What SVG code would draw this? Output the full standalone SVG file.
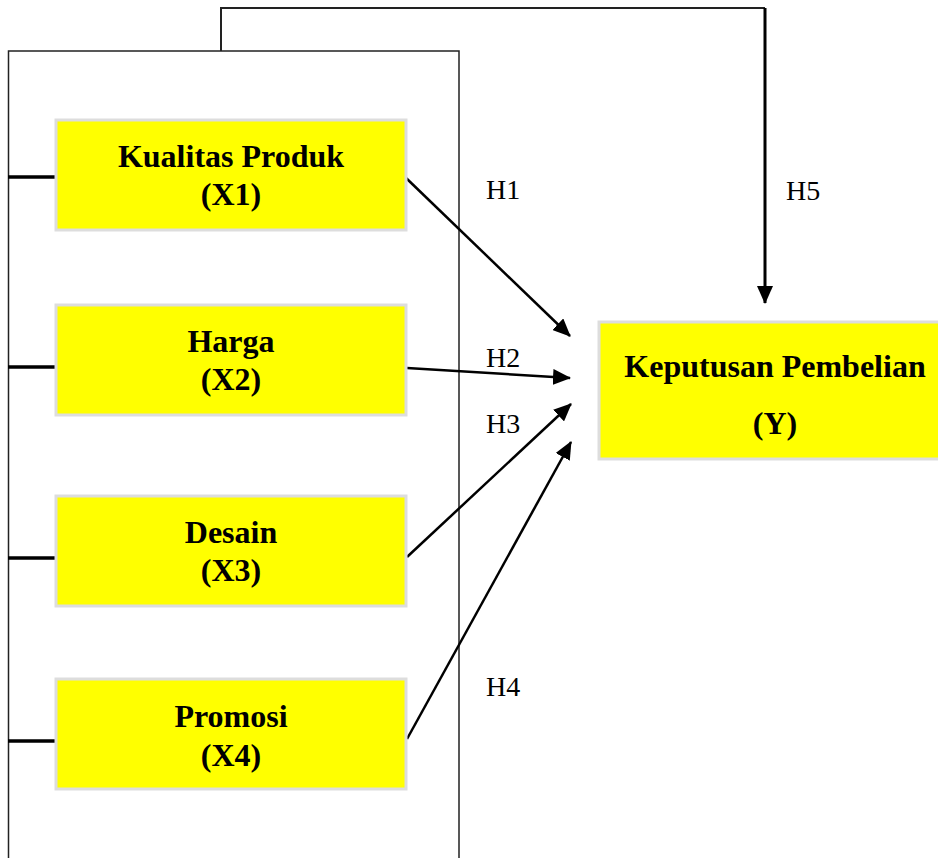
<svg xmlns="http://www.w3.org/2000/svg" width="938" height="858" viewBox="0 0 938 858">
<style>
.box{fill:#ffff00;stroke:#dddddd;stroke-width:3}
.t{font-family:"Liberation Serif","Times New Roman",serif;font-weight:bold;font-size:32px;text-anchor:middle;fill:#000}
.h{font-family:"Liberation Serif","Times New Roman",serif;font-size:28px;fill:#000}
.frame{fill:none;stroke:#222;stroke-width:1.5}
.stub{stroke:#000;stroke-width:3.5}
.arr{fill:none;stroke:#000;stroke-width:2.5;marker-end:url(#ah)}
</style>
<defs>
<marker id="ah" markerUnits="userSpaceOnUse" markerWidth="18" markerHeight="16" refX="17" refY="8" orient="auto" viewBox="0 0 18 16">
<path d="M0,0 L18,8 L0,16 Z" fill="#000"/>
</marker>
</defs>
<rect width="938" height="858" fill="#fff"/>
<g id="frame">
<path class="frame" d="M8.5,858 V51 H459 V858"/>
</g>
<g id="connectors">
<path class="frame" d="M221,51 V8 H765" style="stroke-width:2"/>
<path class="arr" d="M765,8 V303" style="stroke-width:3"/>
<line class="stub" x1="8" y1="177" x2="56" y2="177"/>
<line class="stub" x1="8" y1="367" x2="56" y2="367"/>
<line class="stub" x1="8" y1="558" x2="56" y2="558"/>
<line class="stub" x1="8" y1="741" x2="56" y2="741"/>
<path class="arr" d="M405,177 L570,336"/>
<path class="arr" d="M407,368 L570,378"/>
<path class="arr" d="M407,557 L571,404"/>
<path class="arr" d="M407,739 L571,442"/>
</g>
<g id="x1">
<rect class="box" x="56" y="120" width="350" height="110"/>
<text class="t" x="231" y="167">Kualitas Produk</text>
<text class="t" x="231" y="205">(X1)</text>
</g>
<g id="x2">
<rect class="box" x="56" y="305" width="350" height="110"/>
<text class="t" x="231" y="352">Harga</text>
<text class="t" x="231" y="390">(X2)</text>
</g>
<g id="x3">
<rect class="box" x="56" y="496" width="350" height="110"/>
<text class="t" x="231" y="543">Desain</text>
<text class="t" x="231" y="581">(X3)</text>
</g>
<g id="x4">
<rect class="box" x="56" y="679" width="350" height="110"/>
<text class="t" x="231" y="727">Promosi</text>
<text class="t" x="231" y="766">(X4)</text>
</g>
<g id="y">
<rect class="box" x="599" y="322" width="352" height="137"/>
<text class="t" x="775" y="377">Keputusan Pembelian</text>
<text class="t" x="775" y="434">(Y)</text>
</g>
<g id="labels">
<text class="h" x="486" y="199">H1</text>
<text class="h" x="486" y="367">H2</text>
<text class="h" x="486" y="433">H3</text>
<text class="h" x="486" y="696">H4</text>
<text class="h" x="786" y="200">H5</text>
</g>
</svg>
